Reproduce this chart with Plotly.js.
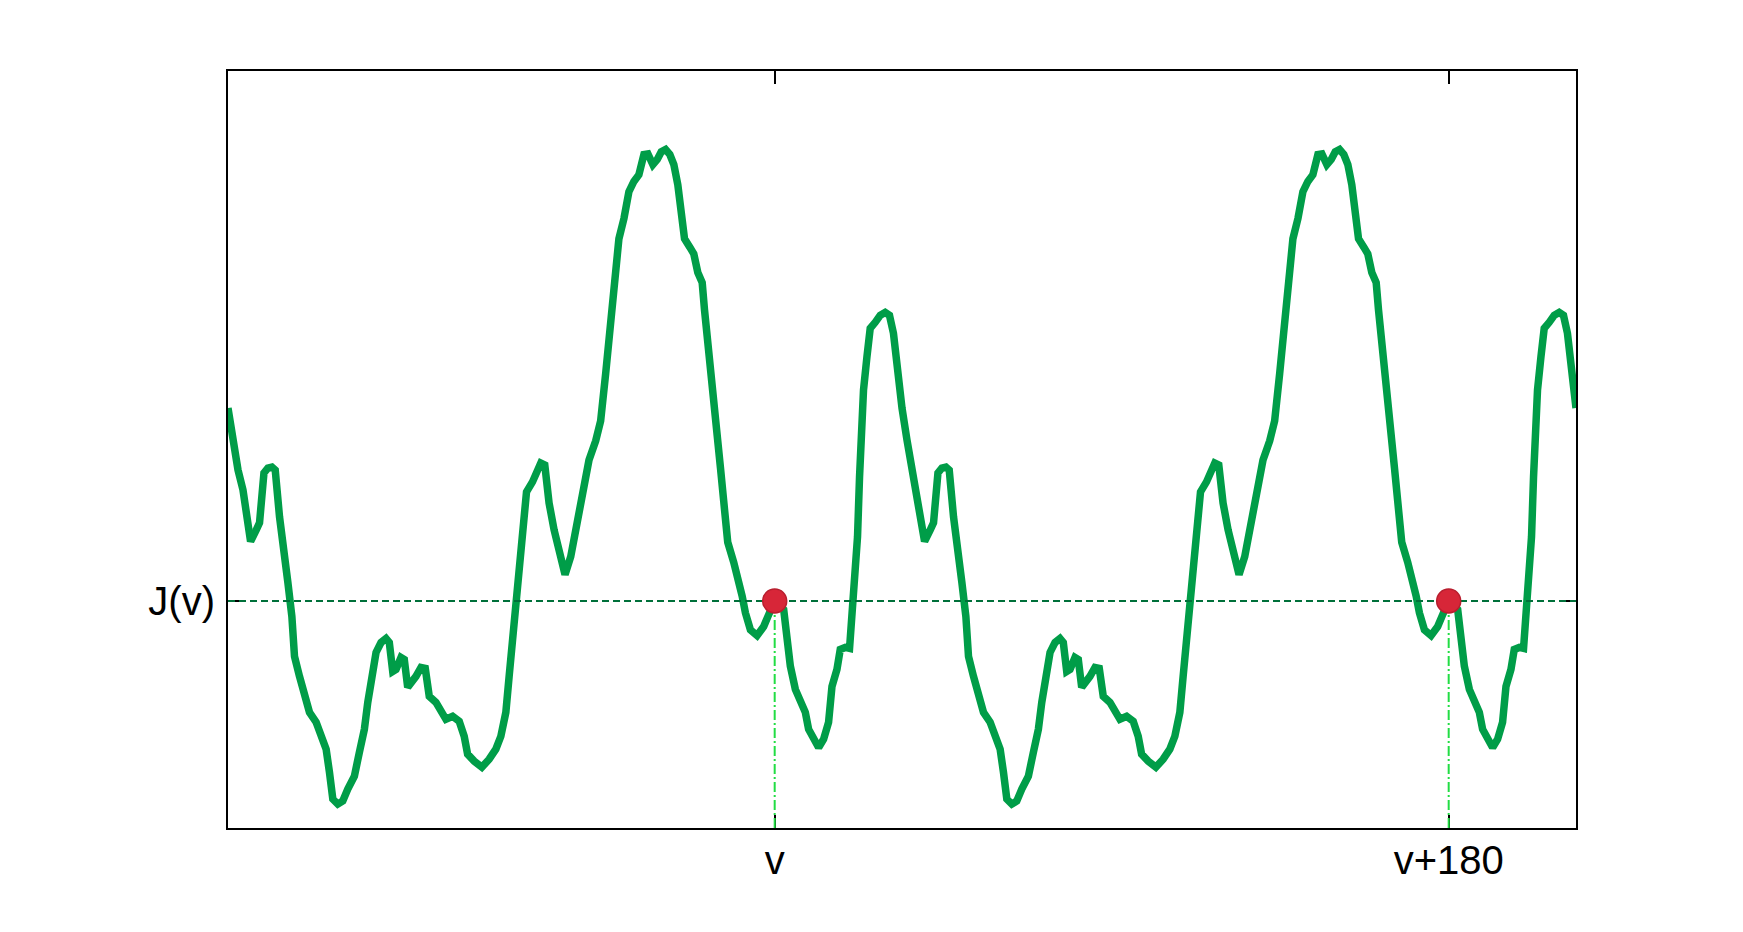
<!DOCTYPE html>
<html>
<head>
<meta charset="utf-8">
<script src="https://cdn.plot.ly/plotly-3.0.1.min.js"></script>
<style>
  html, body { margin: 0; padding: 0; background: #ffffff; }
  #chart { width: 1743px; height: 932px; }
</style>
</head>
<body>
<div id="chart"></div>
<script>
// First period of the signal (angle in degrees, signal in arbitrary units)
const angle1 = [0, 1.33, 2.67, 4.00, 4.88, 6.03, 7.55, 8.42, 9.60, 10.66,
  11.73, 12.61, 13.76, 14.66, 16.00, 17.06, 17.76, 19.09, 20.42, 21.76,
  23.54, 24.87, 26.21, 27.09, 27.99, 29.33, 30.66, 31.99, 33.75, 35.09,
  36.42, 37.33, 38.66, 39.54, 40.87, 42.20, 43.08, 43.99, 44.87, 46.20,
  47.08, 47.99, 50.20, 51.54, 52.68, 53.75, 55.54, 56.87, 58.20, 59.99,
  61.75, 63.08, 63.99, 65.75, 67.80, 69.75, 71.53, 72.87, 74.20, 75.08,
  75.98, 76.86, 77.74, 78.65, 79.72, 81.32, 82.65, 83.53, 84.60, 85.74,
  87.08, 88.41, 90.01, 91.53, 92.86, 93.58, 95.07, 96.41, 98.19, 99.52,
  100.86, 101.74, 102.65, 103.53, 104.40, 105.74, 107.07, 108.40, 109.74, 111.07,
  112.14, 113.47, 114.64, 115.71, 116.86, 118.00, 119.07, 120.13, 121.04, 121.92,
  123.33, 124.40, 125.47, 126.64, 127.25, 127.97, 129.04, 129.73, 130.45, 131.52,
  132.40, 133.46, 135.07, 136.40, 137.31, 138.19, 139.52, 141.30, 143.06, 144.40,
  146.00, 148.40, 149.30, 150.18, 151.52, 152.85, 154.18, 155.06, 156.39, 157.73,
  159.06, 160.39, 161.30, 162.63, 163.51, 164.85, 165.99, 166.63, 167.51, 168.12,
  168.66, 169.03, 169.72, 170.63, 171.51, 172.85, 174.18, 175.51, 176.66, 177.72,
  178.63, 179.51];
const signal1 = [55.47, 51.25, 47.30, 44.66, 41.63, 37.85, 39.39, 40.32, 46.90, 47.56,
  47.69, 47.30, 41.11, 36.76, 32.41, 27.93, 22.66, 20.03, 17.92, 15.28,
  13.97, 12.12, 10.41, 7.38, 3.82, 3.16, 3.56, 5.14, 6.85, 10.01,
  13.04, 16.60, 20.55, 23.19, 24.51, 25.03, 24.51, 20.68, 20.95, 22.53,
  22.27, 18.58, 20.03, 21.21, 21.08, 17.39, 16.60, 15.28, 14.36, 14.76,
  14.10, 12.12, 9.75, 8.83, 8.04, 9.09, 10.41, 12.12, 15.28, 20.03,
  25.30, 29.91, 35.44, 40.71, 44.40, 45.72, 47.03, 48.22, 47.96, 42.95,
  39.39, 36.36, 33.46, 35.84, 39.39, 42.42, 45.98, 48.62, 51.12, 53.79,
  60.03, 64.48, 69.83, 74.28, 77.84, 80.51, 84.07, 85.41, 86.30, 88.97,
  89.06, 87.64, 88.31, 89.33, 89.64, 88.97, 87.64, 84.97, 81.41, 77.84,
  76.73, 75.84, 73.38, 72.05, 68.48, 64.48, 60.03, 55.57, 52.00, 47.56,
  43.10, 37.76, 35.09, 32.86, 30.63, 28.41, 26.18, 25.43, 26.61, 28.19,
  30.00, 28.85, 25.34, 21.38, 18.31, 17.00, 15.28, 13.04, 11.73, 10.63,
  11.73, 13.97, 18.71, 20.95, 23.58, 23.85, 23.72, 27.54, 32.41, 38.47,
  46.38, 52.57, 57.84, 62.19, 66.01, 66.80, 67.72, 68.11, 67.72, 65.35,
  60.87, 56.13];
// Second period
const angle2 = [180, 181.33, 182.67, 184.00, 184.88, 186.03, 187.55, 188.42, 189.60, 190.66,
  191.73, 192.61, 193.76, 194.66, 196.00, 197.06, 197.76, 199.09, 200.42, 201.76,
  203.54, 204.87, 206.21, 207.09, 207.99, 209.33, 210.66, 211.99, 213.75, 215.09,
  216.42, 217.33, 218.66, 219.54, 220.87, 222.20, 223.08, 223.99, 224.87, 226.20,
  227.08, 227.99, 230.20, 231.54, 232.68, 233.75, 235.54, 236.87, 238.20, 239.99,
  241.75, 243.08, 243.99, 245.75, 247.80, 249.75, 251.53, 252.87, 254.20, 255.08,
  255.98, 256.86, 257.74, 258.65, 259.72, 261.32, 262.65, 263.53, 264.60, 265.74,
  267.08, 268.41, 270.01, 271.53, 272.86, 273.58, 275.07, 276.41, 278.19, 279.52,
  280.86, 281.74, 282.65, 283.53, 284.40, 285.74, 287.07, 288.40, 289.74, 291.07,
  292.14, 293.47, 294.64, 295.71, 296.86, 298.00, 299.07, 300.13, 301.04, 301.92,
  303.33, 304.40, 305.47, 306.64, 307.25, 307.97, 309.04, 309.73, 310.45, 311.52,
  312.40, 313.46, 315.07, 316.40, 317.31, 318.19, 319.52, 321.30, 323.06, 324.40,
  326.00, 328.40, 329.30, 330.18, 331.52, 332.85, 334.18, 335.06, 336.39, 337.73,
  339.06, 340.39, 341.30, 342.63, 343.51, 344.85, 345.99, 346.63, 347.51, 348.12,
  348.66, 349.03, 349.72, 350.63, 351.51, 352.85, 354.18, 355.51, 356.66, 357.72,
  358.63, 359.51, 360];
const signal2 = [55.47, 51.25, 47.30, 44.66, 41.63, 37.85, 39.39, 40.32, 46.90, 47.56,
  47.69, 47.30, 41.11, 36.76, 32.41, 27.93, 22.66, 20.03, 17.92, 15.28,
  13.97, 12.12, 10.41, 7.38, 3.82, 3.16, 3.56, 5.14, 6.85, 10.01,
  13.04, 16.60, 20.55, 23.19, 24.51, 25.03, 24.51, 20.68, 20.95, 22.53,
  22.27, 18.58, 20.03, 21.21, 21.08, 17.39, 16.60, 15.28, 14.36, 14.76,
  14.10, 12.12, 9.75, 8.83, 8.04, 9.09, 10.41, 12.12, 15.28, 20.03,
  25.30, 29.91, 35.44, 40.71, 44.40, 45.72, 47.03, 48.22, 47.96, 42.95,
  39.39, 36.36, 33.46, 35.84, 39.39, 42.42, 45.98, 48.62, 51.12, 53.79,
  60.03, 64.48, 69.83, 74.28, 77.84, 80.51, 84.07, 85.41, 86.30, 88.97,
  89.06, 87.64, 88.31, 89.33, 89.64, 88.97, 87.64, 84.97, 81.41, 77.84,
  76.73, 75.84, 73.38, 72.05, 68.48, 64.48, 60.03, 55.57, 52.00, 47.56,
  43.10, 37.76, 35.09, 32.86, 30.63, 28.41, 26.18, 25.43, 26.61, 28.19,
  30.00, 28.85, 25.34, 21.38, 18.31, 17.00, 15.28, 13.04, 11.73, 10.63,
  11.73, 13.97, 18.71, 20.95, 23.58, 23.85, 23.72, 27.54, 32.41, 38.47,
  46.38, 52.57, 57.84, 62.19, 66.01, 66.80, 67.72, 68.11, 67.72, 65.35,
  60.87, 56.13, 55.47];

const markAngles = [146, 326];
const levelJ = 30;
const xTickLabels = ['v', 'v+180'];
const yTickLabels = ['J(v)'];
const xRange = [0, 360];
const yRange = [0, 100];

const FONT = '"Liberation Sans", Arial, Helvetica, sans-serif';

const traces = [
  {
    x: angle1.concat(angle2),
    y: signal1.concat(signal2),
    type: 'scatter', mode: 'lines',
    line: { color: '#009d48', width: 7.5, shape: 'linear' },
    hoverinfo: 'skip', showlegend: false
  },
  {
    x: xRange, y: [levelJ, levelJ],
    type: 'scatter', mode: 'lines',
    line: { color: '#00703a', width: 2, dash: '7px,4px' },
    hoverinfo: 'skip', showlegend: false
  },
  {
    x: [markAngles[0], markAngles[0], null, markAngles[1], markAngles[1]],
    y: [yRange[0], levelJ, null, yRange[0], levelJ],
    type: 'scatter', mode: 'lines',
    line: { color: '#22dd44', width: 2, dash: '10px,3px,2px,3px' },
    hoverinfo: 'skip', showlegend: false
  },
  {
    x: markAngles, y: [levelJ, levelJ],
    type: 'scatter', mode: 'markers',
    marker: { color: '#d72638', size: 24, line: { color: '#b81e2e', width: 1.5 } },
    cliponaxis: false,
    hoverinfo: 'skip', showlegend: false
  }
];

const axisCommon = {
  showgrid: false, zeroline: false,
  showline: true, linecolor: '#000000', linewidth: 2, mirror: 'ticks',
  ticks: 'inside', ticklen: 13, tickwidth: 2, tickcolor: '#000000',
  tickfont: { family: FONT, size: 40, color: '#000000' },
  layer: 'below traces', fixedrange: true
};

const layout = {
  width: 1743, height: 932,
  margin: { l: 228, r: 167, t: 71, b: 104, pad: 0 },
  paper_bgcolor: '#ffffff', plot_bgcolor: '#ffffff',
  showlegend: false,
  xaxis: Object.assign({}, axisCommon, {
    range: xRange, tickmode: 'array', tickvals: markAngles, ticktext: xTickLabels,
    ticklabelstandoff: -4
  }),
  yaxis: Object.assign({}, axisCommon, {
    range: yRange, tickmode: 'array', tickvals: [levelJ], ticktext: yTickLabels,
    ticklabelstandoff: 3
  })
};

Plotly.newPlot('chart', traces, layout, { displayModeBar: false, staticPlot: true });
</script>
</body>
</html>
